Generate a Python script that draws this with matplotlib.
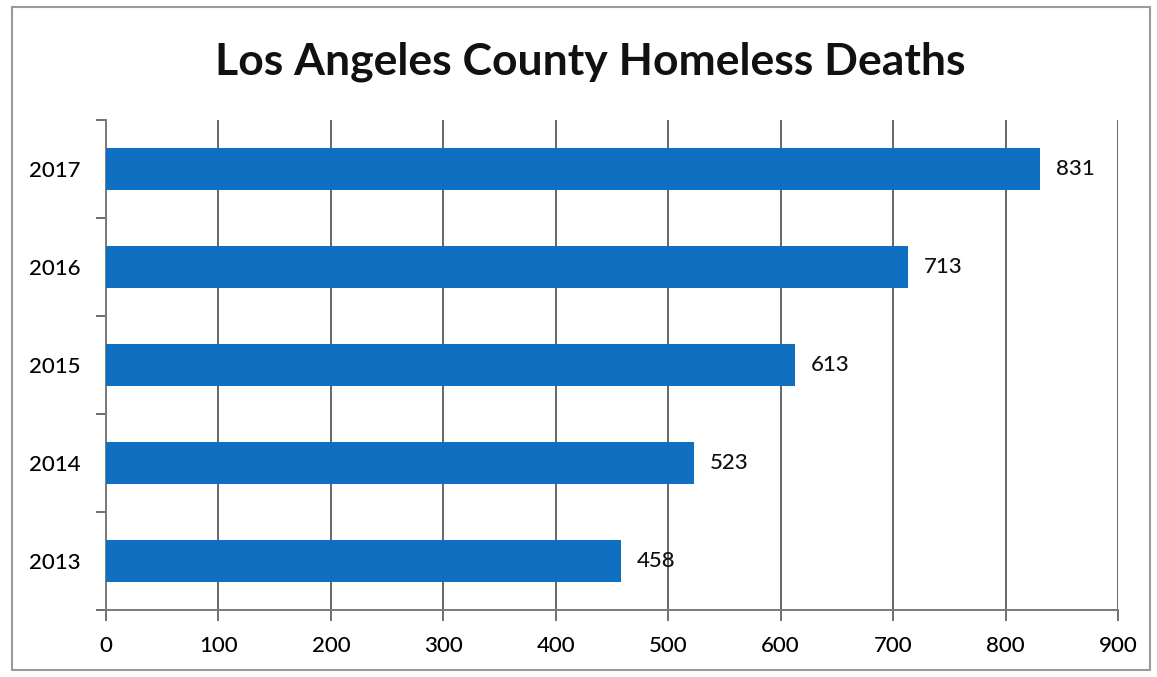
import matplotlib.pyplot as plt
from matplotlib.patches import Rectangle

years = ["2013", "2014", "2015", "2016", "2017"]
deaths = [458, 523, 613, 713, 831]
x_ticks = [0, 100, 200, 300, 400, 500, 600, 700, 800, 900]

plt.rcParams["font.family"] = ["Lato", "DejaVu Sans"]

fig = plt.figure(figsize=(11.57, 6.77), dpi=100)
ax = fig.add_axes([106 / 1157, 1 - 610 / 677, (1118 - 106) / 1157, (610 - 120) / 677])

# outer frame around the whole chart
fig.patches.append(
    Rectangle((12 / 1157, 7 / 677), 1138 / 1157, 663 / 677, transform=fig.transFigure,
              fill=False, edgecolor="#9a9a9a", linewidth=1.5)
)

positions = range(len(years))
ax.barh(positions, deaths, height=0.43, color="#0F6FC1", zorder=3)

for y, v in zip(positions, deaths):
    ax.text(v + 14, y, str(v), va="center", ha="left", fontsize=16,
            fontweight="medium", color="#111111")

ax.set_xlim(0, 900)
ax.set_ylim(-0.5, len(years) - 0.5)
ax.set_xticks(x_ticks)
ax.set_xticklabels([str(t) for t in x_ticks], fontsize=16, fontweight="medium")
ax.set_yticks(list(positions))
ax.set_yticklabels(years, fontsize=16, fontweight="medium")

# category boundaries carry the y tick marks
ax.set_yticks([p - 0.5 for p in range(len(years) + 1)], minor=True)
ax.tick_params(axis="y", which="major", length=0, pad=18)
ax.tick_params(axis="y", which="minor", length=7, width=1.2, color="#555555")
ax.tick_params(axis="x", length=8, width=1.2, color="#555555", pad=11)

ax.grid(axis="x", color="#666666", linewidth=1.4, zorder=0)
for side in ["top", "right"]:
    ax.spines[side].set_visible(False)
for side in ["left", "bottom"]:
    ax.spines[side].set_color("#7a7a7a")
    ax.spines[side].set_linewidth(1.4)

fig.text(590 / 1157, 1 - 62 / 677, "Los Angeles County Homeless Deaths",
         ha="center", va="center", fontsize=32, fontweight="bold", color="#111111")

fig.savefig("out.png", dpi=100, facecolor="white")
